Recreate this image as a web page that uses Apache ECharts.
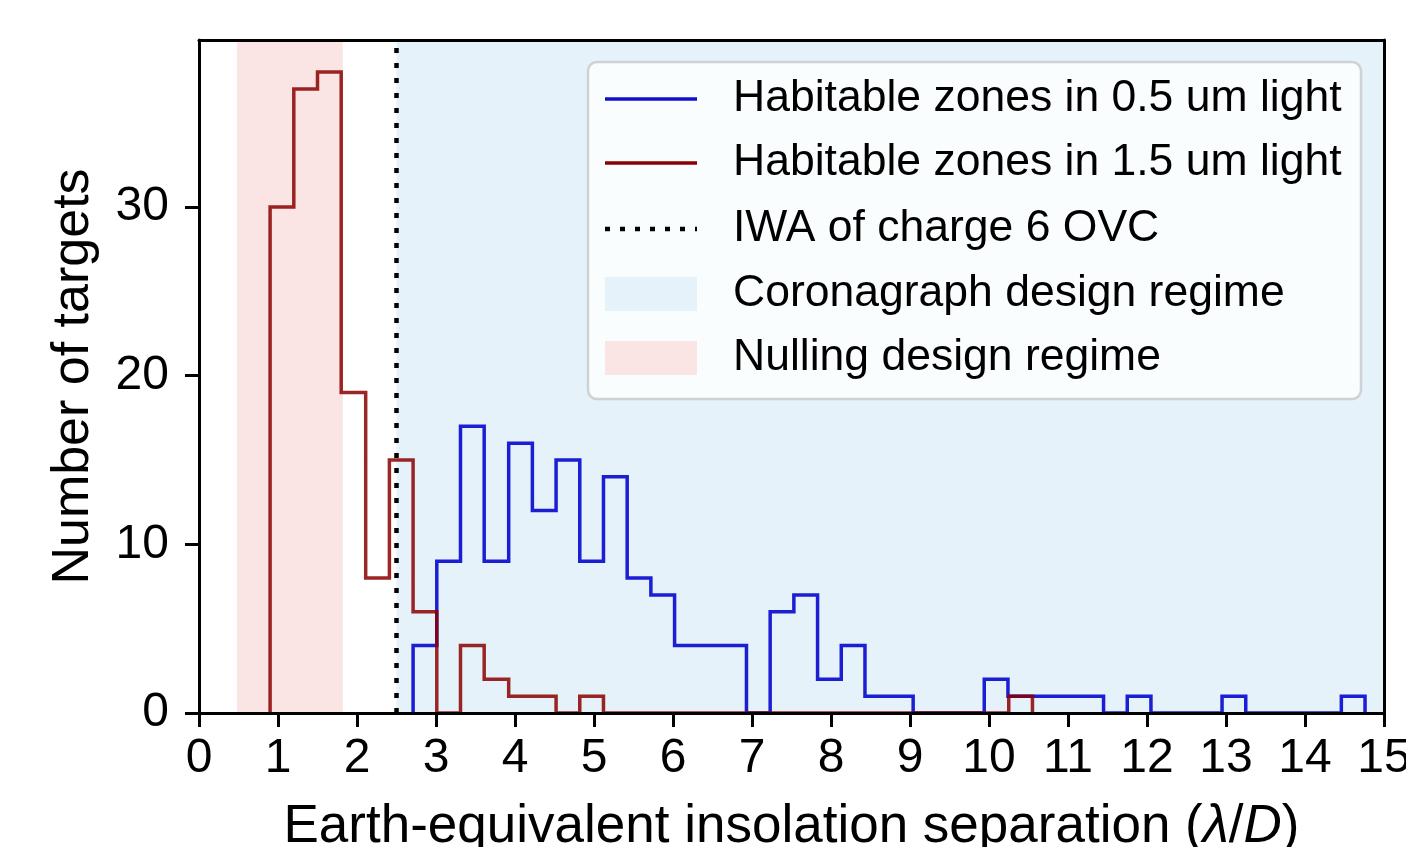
<!DOCTYPE html>
<html><head><meta charset="utf-8">
<script src="https://cdn.jsdelivr.net/npm/echarts@6/dist/echarts.min.js"></script>
<style>html,body{margin:0;padding:0;background:#fff}#c{width:1406px;height:847px}</style>
</head><body><div id="c"></div>
<script>
// ---- data ----
const blueEdges = [2.71,3.01,3.31,3.61,3.92,4.22,4.52,4.82,5.12,5.42,5.72,6.02,6.33,6.63,6.93,7.23,7.53,7.83,8.13,8.43,8.74,9.04,9.34,9.64,9.94,10.24,10.54,10.84,11.15,11.45,11.75,12.05,12.35,12.65,12.95,13.25,13.56,13.86,14.16,14.46,14.76];
const blueCounts = [4,9,17,9,16,12,15,9,14,8,7,4,4,4,0,6,7,2,4,1,1,0,0,0,2,1,1,1,1,0,1,0,0,0,1,0,0,0,0,1];
const redEdges = [0.90,1.20,1.50,1.80,2.11,2.41,2.71,3.01,3.31,3.61,3.92,4.22,4.52,4.82,5.12,5.42,5.72,6.03,6.33,6.63,6.93,7.23,7.53,7.84,8.14,8.44,8.74,9.04,9.34,9.65,9.95,10.25,10.55];
const redCounts = [30,37,38,19,8,15,6,0,4,2,1,1,0,1,0,0,0,0,0,0,0,0,0,0,0,0,0,0,0,0,0,1];
const xTicks = [0,1,2,3,4,5,6,7,8,9,10,11,12,13,14,15];
const yTicks = [0,10,20,30];
const iwaLine = 2.5;
const coronagraphRegime = [2.5, 15];
const nullingRegime = [0.48, 1.82];
const legendLabels = ['Habitable zones in 0.5 um light','Habitable zones in 1.5 um light','IWA of charge 6 OVC','Coronagraph design regime','Nulling design regime'];
const xLabel = 'Earth-equivalent insolation separation ({i|λ}/{i|D})';
const yLabel = 'Number of targets';

// ---- styles ----
const FONT = '"Liberation Sans", Arial, Helvetica, sans-serif';
const BLUE = 'rgba(0,0,205,0.88)';
const RED = 'rgba(139,0,0,0.85)';
const CORO = '#e5f2f9';
const NULL = '#fbe4e4';

function stepPoints(edges, counts) {
  const pts = [[edges[0], 0]];
  for (let i = 0; i < counts.length; i++) {
    pts.push([edges[i], counts[i]]);
    pts.push([edges[i + 1], counts[i]]);
  }
  pts.push([edges[edges.length - 1], 0]);
  return pts;
}

const chart = echarts.init(document.getElementById('c'), null, {renderer: 'canvas'});

const axisCommon = {
  axisLine: {show: true, onZero: false, lineStyle: {color: '#000', width: 3}},
  splitLine: {show: false},
  z: 10
};

// legend graphic
const L = {x: 588, y: 62, w: 773, h: 337, hx0: 605, hx1: 697, tx: 733, rows: [99, 163, 229, 294, 358]};
const legendGraphic = [
  {type: 'rect', z: 100, shape: {x: L.x, y: L.y, width: L.w, height: L.h, r: 9},
   style: {fill: 'rgba(255,255,255,0.8)', stroke: '#cfd2d4', lineWidth: 2.5}},
  {type: 'line', z: 101, shape: {x1: L.hx0, y1: L.rows[0], x2: L.hx1, y2: L.rows[0]}, style: {stroke: '#1010cc', lineWidth: 3.5}},
  {type: 'line', z: 101, shape: {x1: L.hx0, y1: L.rows[1], x2: L.hx1, y2: L.rows[1]}, style: {stroke: '#8b0000', lineWidth: 3.5}},
  {type: 'line', z: 101, shape: {x1: L.hx0, y1: L.rows[2], x2: L.hx1, y2: L.rows[2]}, style: {stroke: '#000', lineWidth: 4.5, lineDash: [5, 10]}},
  {type: 'rect', z: 101, shape: {x: L.hx0, y: L.rows[3] - 17, width: L.hx1 - L.hx0, height: 34}, style: {fill: CORO}},
  {type: 'rect', z: 101, shape: {x: L.hx0, y: L.rows[4] - 17, width: L.hx1 - L.hx0, height: 34}, style: {fill: NULL}}
];
legendLabels.forEach((t, i) => {
  legendGraphic.push({type: 'text', z: 101, style: {text: t, x: L.tx, y: L.rows[i], fill: '#000', font: '44.5px ' + FONT, verticalAlign: 'middle', textAlign: 'left'}});
});

chart.setOption({
  animation: false,
  backgroundColor: '#fff',
  textStyle: {fontFamily: FONT},
  grid: {left: 199, right: 22, top: 40, bottom: 134, containLabel: false, outerBoundsMode: 'none'},
  xAxis: [
    Object.assign({}, axisCommon, {
      type: 'value', min: 0, max: 15, interval: 1, position: 'bottom',
      name: xLabel, nameLocation: 'middle', nameGap: 88,
      nameTextStyle: {fontSize: 53, color: '#000', fontFamily: FONT,
        rich: {i: {fontSize: 53, fontStyle: 'italic', fontFamily: FONT, color: '#000'}}},
      axisTick: {show: true, inside: false, length: 14, lineStyle: {color: '#000', width: 3}, customValues: xTicks},
      axisLabel: {show: true, margin: 22, fontSize: 48, color: '#000', fontFamily: FONT, customValues: xTicks, showMaxLabel: true, hideOverlap: false}
    }),
    Object.assign({}, axisCommon, {
      type: 'value', min: 0, max: 15, position: 'top',
      axisTick: {show: false}, axisLabel: {show: false}
    })
  ],
  yAxis: [
    Object.assign({}, axisCommon, {
      type: 'value', min: 0, max: 39.9, interval: 10, position: 'left',
      name: yLabel, nameLocation: 'middle', nameGap: 99, nameRotate: 90,
      nameTextStyle: {fontSize: 52, color: '#000', fontFamily: FONT},
      axisTick: {show: true, inside: false, length: 14, lineStyle: {color: '#000', width: 3}, customValues: yTicks},
      axisLabel: {show: true, margin: 30, fontSize: 48, color: '#000', fontFamily: FONT, customValues: yTicks}
    }),
    Object.assign({}, axisCommon, {
      type: 'value', min: 0, max: 39.9, position: 'right',
      axisTick: {show: false}, axisLabel: {show: false}
    })
  ],
  series: [
    {
      name: 'regimes', type: 'line', data: [], z: 1, silent: true,
      markArea: {
        silent: true,
        data: [
          [{xAxis: coronagraphRegime[0], itemStyle: {color: CORO}}, {xAxis: coronagraphRegime[1]}],
          [{xAxis: nullingRegime[0], itemStyle: {color: NULL}}, {xAxis: nullingRegime[1]}]
        ]
      }
    },
    {
      name: legendLabels[0], type: 'line', data: stepPoints(blueEdges, blueCounts),
      showSymbol: false, symbol: 'none', z: 3,
      lineStyle: {color: BLUE, width: 3.5, join: 'miter', cap: 'butt'}
    },
    {
      name: legendLabels[1], type: 'line', data: stepPoints(redEdges, redCounts),
      showSymbol: false, symbol: 'none', z: 4,
      lineStyle: {color: RED, width: 3.5, join: 'miter', cap: 'butt'}
    },
    {
      name: legendLabels[2], type: 'line', data: [], z: 5, silent: true,
      markLine: {
        silent: true, symbol: ['none', 'none'], label: {show: false},
        lineStyle: {color: '#000', width: 4.5, type: [5, 10]},
        data: [{xAxis: iwaLine}]
      }
    }
  ],
  graphic: legendGraphic
});
</script>
</body></html>
